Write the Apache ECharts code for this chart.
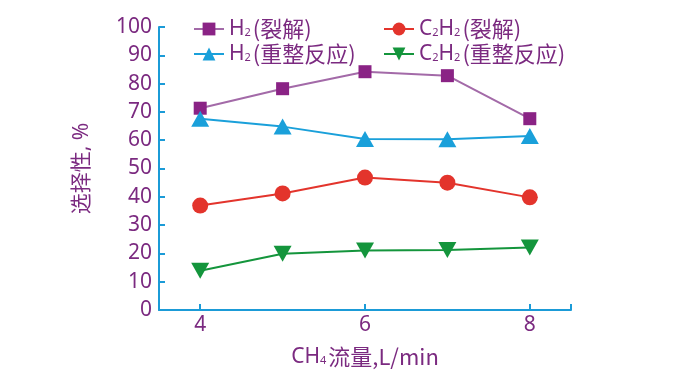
<!DOCTYPE html>
<html><head><meta charset="utf-8">
<script src="https://cdn.jsdelivr.net/npm/echarts@6/dist/echarts.min.js"></script>
<style>html,body{margin:0;padding:0;background:#fff}#c{width:679px;height:373px}</style>
</head><body><div id="c"></div>
<script>
const flow = [4, 5, 6, 7, 8];
const h2Crack = [71.3, 78.2, 84.2, 82.8, 67.6];
const c2h2Crack = [36.9, 41.2, 46.8, 45.0, 39.8];
const h2Reform = [67.6, 64.8, 60.4, 60.3, 61.5];
const c2h2Reform = [13.9, 19.9, 21.0, 21.2, 22.1];
const xTickLabels = [4, 6, 8];
const seriesNames = ['H2(裂解)', 'C2H2(裂解)', 'H2(重整反应)', 'C2H2(重整反应)'];

const TXT = '#7b2a80';
const FONT = '"Noto Sans", "Noto Sans CJK SC", sans-serif';
const rich = {
  n: {color: TXT, fontSize: 21, fontFamily: FONT},
  c: {color: TXT, fontSize: 22, fontFamily: '"Noto Sans CJK SC", sans-serif', padding: [0, 0, 0, 2]},
  s: {color: TXT, fontSize: 11, fontFamily: FONT, padding: [8, 0, 0, 0]}
};
function fmt(name) {
  return name.replace(/(C2H2|H2)(.*)/, function (m, chem, rest) {
    const c = chem === 'C2H2' ? '{n|C}{s|2}{n|H}{s|2}' : '{n|H}{s|2}';
    return c + '{c|' + rest + '}';
  });
}
const pairs = (ys) => flow.map((x, i) => [x, ys[i]]);
const chart = echarts.init(document.getElementById('c'));
const legendPos = [[188, 13], [378, 13], [188, 38], [378, 38]];
chart.setOption({
  animation: false,
  grid: {left: 159, right: 108, top: 27, bottom: 63, outerBoundsMode: 'none', containLabel: false},
  legend: seriesNames.map((n, i) => ({
    data: [n], left: legendPos[i][0], top: legendPos[i][1],
    itemWidth: 30, itemHeight: 16, itemGap: 0,
    formatter: fmt, textStyle: {rich: rich}
  })),
  xAxis: {
    type: 'value', min: 3.5, max: 8.5,
    axisLine: {lineStyle: {color: '#1b9bd7', width: 2}},
    axisTick: {inside: true, length: 6, lineStyle: {color: '#1b9bd7', width: 2}, customValues: [4, 6, 8, 8.5]},
    axisLabel: {customValues: xTickLabels, color: TXT, fontSize: 21, fontFamily: FONT, margin: 5},
    splitLine: {show: false},
    name: '{n|CH}{s|4}{c|流量,L/min}',
    nameLocation: 'middle', nameGap: 36,
    nameTextStyle: {rich: rich}
  },
  yAxis: {
    type: 'value', min: 0, max: 100, interval: 10,
    axisLine: {show: true, lineStyle: {color: '#1b9bd7', width: 2}},
    axisTick: {show: true, inside: true, length: 6, lineStyle: {color: '#1b9bd7', width: 2}},
    axisLabel: {color: TXT, fontSize: 21, fontFamily: FONT, margin: 7},
    splitLine: {show: false},
    name: '选择性, %', nameLocation: 'middle', nameGap: 66,
    nameTextStyle: {color: TXT, fontSize: 21, fontFamily: FONT}
  },
  series: [
    {name: seriesNames[0], type: 'line', data: pairs(h2Crack), symbol: 'rect', symbolSize: 13,
      itemStyle: {color: '#8a2385'}, lineStyle: {color: '#a36aa8', width: 2}},
    {name: seriesNames[1], type: 'line', data: pairs(c2h2Crack), symbol: 'circle', symbolSize: 16,
      itemStyle: {color: '#e3342c'}, lineStyle: {color: '#e3342c', width: 2}},
    {name: seriesNames[2], type: 'line', data: pairs(h2Reform), symbol: 'triangle', symbolSize: [18, 16],
      itemStyle: {color: '#1aa0da'}, lineStyle: {color: '#1aa0da', width: 2}},
    {name: seriesNames[3], type: 'line', data: pairs(c2h2Reform), symbol: 'triangle', symbolRotate: 180, symbolSize: [18, 16],
      itemStyle: {color: '#14953c'}, lineStyle: {color: '#14953c', width: 2}}
  ]
});
</script></body></html>
